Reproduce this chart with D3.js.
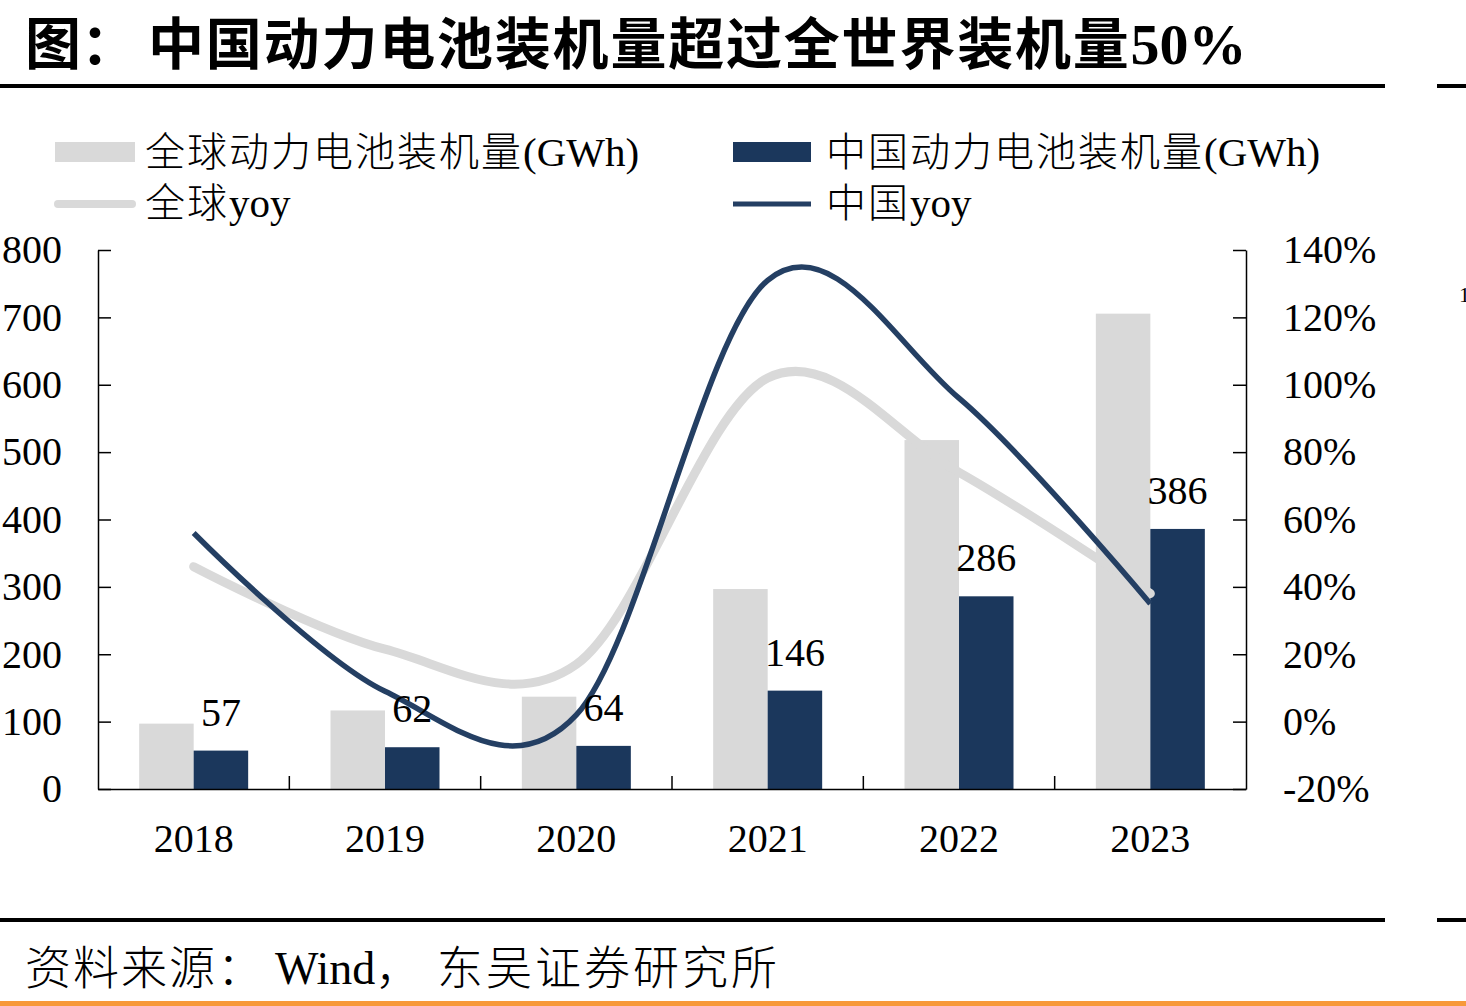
<!DOCTYPE html>
<html>
<head>
<meta charset="utf-8">
<script src="https://cdn.jsdelivr.net/npm/d3@7"></script>
<style>
  body { margin: 0; background: #fff; }
  text { font-family: "Liberation Serif", "Noto Sans CJK SC", serif; fill: #000; }
  .cjk { font-family: "Noto Sans CJK SC", "Liberation Serif", sans-serif; }
</style>
</head>
<body>
<div id="chart"></div>
<script>
// data
const years = ["2018", "2019", "2020", "2021", "2022", "2023"];
const globalGWh = [97, 116.6, 137, 296.8, 517.9, 705.5];
const chinaGWh = [57, 62, 64, 146, 286, 386];
const chinaLabels = ["57", "62", "64", "146", "286", "386"];
const globalYoy = [0.46, 0.215, 0.17, 1.02, 0.74, 0.38];
const chinaYoy = [0.56, 0.09, 0.02, 1.31, 0.96, 0.35];
const leftTicks = [0, 100, 200, 300, 400, 500, 600, 700, 800];
const rightTicks = [-0.2, 0, 0.2, 0.4, 0.6, 0.8, 1.0, 1.2, 1.4];

const W = 1466, H = 1006;
const grey = "#d9d9d9", navy = "#1b375c", navyLine = "#243f63";

const svg = d3.select("#chart").append("svg")
    .attr("width", W)
    .attr("height", H);

// title + rules
const title = svg.append("text")
    .attr("y", 64)
    .style("font-size", "56px")
    .style("font-weight", "bold");
title.append("tspan").attr("class", "cjk").attr("x", 25).text("图：");
title.append("tspan").attr("class", "cjk").attr("x", 148)
    .style("letter-spacing", "1.8px").text("中国动力电池装机量超过全世界装机量");
title.append("tspan").style("font-family", "Liberation Serif").style("font-size", "58px").text("50%");

svg.append("rect").attr("x", 0).attr("y", 84).attr("width", 1385).attr("height", 4).attr("fill", "#000");
svg.append("rect").attr("x", 1437).attr("y", 84).attr("width", 29).attr("height", 4).attr("fill", "#000");
svg.append("rect").attr("x", 0).attr("y", 918).attr("width", 1385).attr("height", 4).attr("fill", "#000");
svg.append("rect").attr("x", 1437).attr("y", 918).attr("width", 29).attr("height", 4).attr("fill", "#000");
svg.append("rect").attr("x", 0).attr("y", 1001).attr("width", W).attr("height", 5).attr("fill", "#f7993a");

// scales
const x = d3.scaleBand().domain(years).range([98, 1246]);
const yL = d3.scaleLinear().domain([0, 800]).range([789, 250]);
const yR = d3.scaleLinear().domain([-0.2, 1.4]).range([789, 250]);
const barW = 54.5;
const cx = d => x(d) + x.bandwidth() / 2;

// bars
svg.append("g").selectAll("rect")
    .data(years)
    .join("rect")
    .attr("x", d => cx(d) - barW)
    .attr("y", (d, i) => yL(globalGWh[i]))
    .attr("width", barW)
    .attr("height", (d, i) => yL(0) - yL(globalGWh[i]))
    .attr("fill", grey);

svg.append("g").selectAll("rect")
    .data(years)
    .join("rect")
    .attr("x", d => cx(d))
    .attr("y", (d, i) => yL(chinaGWh[i]))
    .attr("width", barW)
    .attr("height", (d, i) => yL(0) - yL(chinaGWh[i]))
    .attr("fill", navy);

// axes
const fmtPct = d => Math.round(d * 100) + "%";

const axL = svg.append("g").attr("transform", "translate(98,0)")
    .call(d3.axisLeft(yL).tickValues(leftTicks).tickSize(-13).tickSizeOuter(0).tickPadding(36));
const axR = svg.append("g").attr("transform", "translate(1246,0)")
    .call(d3.axisRight(yR).tickValues(rightTicks).tickFormat(fmtPct).tickSize(-13).tickSizeOuter(0).tickPadding(37));
const axB = svg.append("g").attr("transform", "translate(0,789)")
    .call(d3.axisBottom(x).tickSize(0).tickPadding(35));

[axL, axR, axB].forEach(g => {
    g.selectAll("text").style("font-size", "40px").style("font-family", "Liberation Serif").attr("fill", "#000");
    g.selectAll("line").attr("stroke", "#000").attr("stroke-width", 1.5);
    g.select(".domain").attr("stroke", "#000").attr("stroke-width", 1.5);
});

// category boundary ticks
svg.append("g").selectAll("line")
    .data(years.slice(1))
    .join("line")
    .attr("x1", d => x(d)).attr("x2", d => x(d))
    .attr("y1", 789).attr("y2", 776)
    .attr("stroke", "#000").attr("stroke-width", 1.5);

// yoy lines
const line = d3.line()
    .x((d, i) => cx(years[i]))
    .y(d => yR(d))
    .curve(d3.curveCardinal.tension(0));

svg.append("path")
    .datum(globalYoy)
    .attr("d", line)
    .attr("fill", "none")
    .attr("stroke", grey)
    .attr("stroke-width", 9)
    .attr("stroke-linecap", "round");

svg.append("path")
    .datum(chinaYoy)
    .attr("d", line)
    .attr("fill", "none")
    .attr("stroke", navyLine)
    .attr("stroke-width", 5.5);

// data labels
svg.append("g").selectAll("text")
    .data(years)
    .join("text")
    .attr("x", d => cx(d) + barW / 2)
    .attr("y", (d, i) => yL(chinaGWh[i]) - 25)
    .attr("text-anchor", "middle")
    .style("font-size", "40px")
    .text((d, i) => chinaLabels[i]);

// legend
const leg = svg.append("g");
leg.append("rect").attr("x", 55).attr("y", 142).attr("width", 80).attr("height", 20).attr("fill", grey);
leg.append("line").attr("x1", 58).attr("x2", 132).attr("y1", 204).attr("y2", 204)
    .attr("stroke", grey).attr("stroke-width", 8).attr("stroke-linecap", "round");
leg.append("rect").attr("x", 733).attr("y", 142).attr("width", 78).attr("height", 20).attr("fill", navy);
leg.append("line").attr("x1", 733).attr("x2", 811).attr("y1", 204).attr("y2", 204)
    .attr("stroke", navyLine).attr("stroke-width", 5);

function legText(xp, yp, cjk, latin) {
    const t = leg.append("text").attr("x", xp).attr("y", yp).style("font-size", "40px");
    t.append("tspan").attr("class", "cjk").style("font-weight", 300)
        .style("letter-spacing", "2px").text(cjk);
    t.append("tspan").style("font-family", "Liberation Serif").style("font-size", "41px").text(latin);
}
legText(145, 166, "全球动力电池装机量", "(GWh)");
legText(826, 166, "中国动力电池装机量", "(GWh)");
legText(145, 217, "全球", "yoy");
legText(826, 217, "中国", "yoy");

// source
const src = svg.append("text").attr("y", 984).style("font-size", "46px");
src.append("tspan").attr("class", "cjk").style("font-weight", 300).style("letter-spacing", "2px")
    .attr("x", 25).text("资料来源：");
src.append("tspan").style("font-family", "Liberation Serif").attr("x", 275).text("Wind");
src.append("tspan").attr("class", "cjk").style("font-weight", 300).text("，");
src.append("tspan").attr("class", "cjk").style("font-weight", 300).style("letter-spacing", "3px")
    .attr("x", 437).text("东吴证券研究所");

// clipped neighbour label at right edge
svg.append("text").attr("x", 1459).attr("y", 302).style("font-size", "22px").text("1");
</script>
</body>
</html>
